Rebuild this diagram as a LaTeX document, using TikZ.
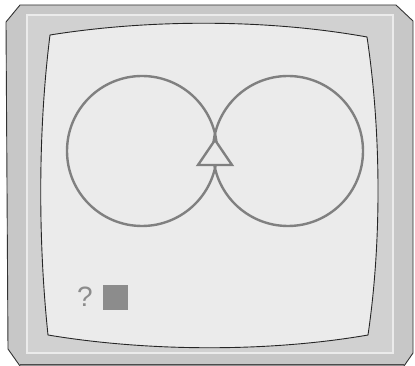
\documentclass[tikz,border=0pt]{standalone}
\usepackage{fontspec}
\setmainfont{Liberation Sans}
\begin{document}
\begin{tikzpicture}[x=1pt,y=-1pt,
  frameline/.style={draw=black!80,line width=0.9pt},
  ringline/.style={draw=black!50,line width=2.4pt},
  bevel/.style={draw=black!8,line width=1.2pt}]
\useasboundingbox (0,0) rectangle (415,366);
\fill[white] (0,0) rectangle (415,366);
% outer frame
\path[fill=black!22,frameline] (20,5) -- (396,5) -- (413,21) -- (413,353) -- (404,366)
  -- (20,366) -- (8,349) -- (6,22) -- cycle;
\draw[black!70,line width=0.8pt] (20,364.5) -- (404,364.5);
% bevel band
\fill[black!18] (27,15) rectangle (393,353);
\draw[bevel] (27,15) rectangle (393,353);
% screen
\path[fill=black!8,draw=black!85,line width=0.9pt]
  (50,35) .. controls (150,19) and (267,19) .. (367,37)
  .. controls (381,130) and (382,240) .. (368,335)
  .. controls (270,352) and (150,352) .. (48,335)
  .. controls (38,240) and (38,130) .. (50,35) -- cycle;
% circles
\coordinate (lc) at (142,151);
\coordinate (rc) at (288,151);
\draw[ringline] (lc) circle[radius=75];
\draw[ringline] (rc) circle[radius=75];
% triangle
\node[coordinate] (ta) at (215,140) {};
\node[coordinate] (tl) at (198,165) {};
\node[coordinate] (tr) at (232,165) {};
\path[fill=black!8,draw=black!50,line width=2.4pt,line join=miter] (ta) -- (tl) -- (tr) -- cycle;
% question and square
\node[text=black!45,font=\fontsize{28}{28}\selectfont] (q) at (85,297) {?};
\node[fill=black!45,minimum width=25pt,minimum height=25pt,inner sep=0pt] (sq) at (115.5,297) {};
\end{tikzpicture}
\end{document}
